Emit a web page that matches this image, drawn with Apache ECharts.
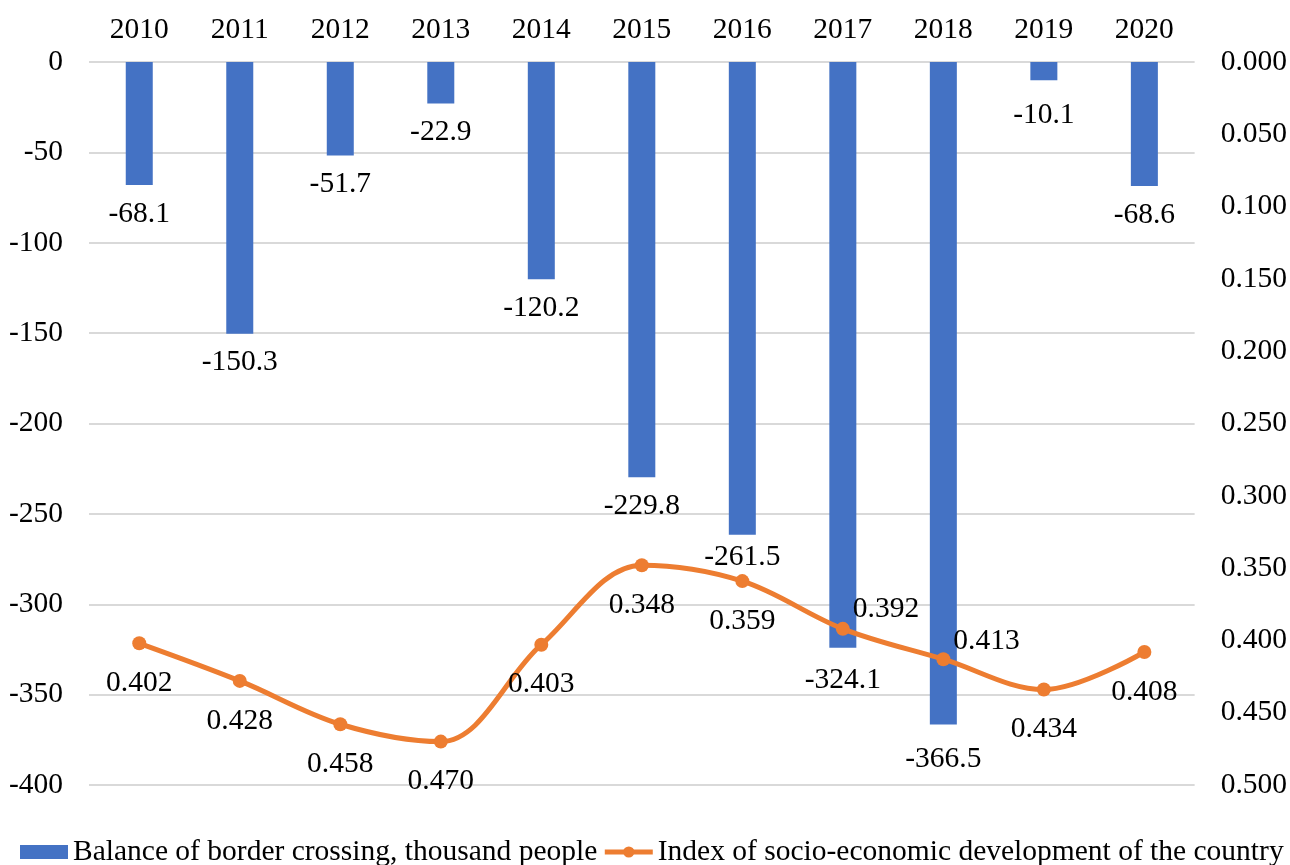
<!DOCTYPE html>
<html>
<head>
<meta charset="utf-8">
<script src="https://cdn.jsdelivr.net/npm/echarts@6/dist/echarts.min.js"></script>
<style>
html,body{margin:0;padding:0;background:#fff;}
#chart{width:1290px;height:865px;}
</style>
</head>
<body>
<div id="chart"></div>
<script>
const years = ['2010','2011','2012','2013','2014','2015','2016','2017','2018','2019','2020'];
const balance = [-68.1, -150.3, -51.7, -22.9, -120.2, -229.8, -261.5, -324.1, -366.5, -10.1, -68.6];
const indexValues = [0.402, 0.428, 0.458, 0.470, 0.403, 0.348, 0.359, 0.392, 0.413, 0.434, 0.408];
const leftTicks = {min: -400, max: 0, interval: 50};
const rightTicks = {min: 0, max: 0.5, interval: 0.05};
const barName = 'Balance of border crossing, thousand people';
const lineName = 'Index of socio-economic development of the country';

const FONT = 'Liberation Serif';
const FS = 29.5;

// label placement tweaks (style only)
const lineLabelRight = {7: [0, -20], 8: [0, -18]};
const barLabelShift = {6: -6, 7: 3, 8: 6, 9: 6};

const lineData = indexValues.map((v, i) => {
  if (lineLabelRight[i]) {
    return {value: v, label: {position: 'right', distance: 3, offset: lineLabelRight[i]}};
  }
  return v;
});
const barData = balance.map((v, i) => {
  if (barLabelShift[i] !== undefined) {
    return {value: v, label: {offset: [0, barLabelShift[i]]}};
  }
  return v;
});

const chart = echarts.init(document.getElementById('chart'), null, {renderer: 'canvas'});
chart.setOption({
  animation: false,
  backgroundColor: '#ffffff',
  textStyle: {fontFamily: FONT, color: '#000'},
  grid: {left: 89, right: 94, top: 62, bottom: 80, containLabel: false},
  legend: {
    top: 837,
    left: 20,
    width: 1280,
    padding: 0,
    itemGap: 5,
    itemWidth: 48,
    itemHeight: 14,
    textStyle: {fontFamily: FONT, fontSize: FS, color: '#000'},
    data: [
      {name: barName, icon: 'rect'},
      {name: lineName, lineStyle: {width: 5}}
    ]
  },
  xAxis: {
    type: 'category',
    position: 'top',
    data: years,
    axisLine: {show: false},
    axisTick: {show: false},
    axisLabel: {fontFamily: FONT, fontSize: FS, color: '#000', margin: 17}
  },
  yAxis: [
    {
      type: 'value',
      min: leftTicks.min, max: leftTicks.max, interval: leftTicks.interval,
      axisLine: {show: false},
      axisTick: {show: false},
      splitLine: {lineStyle: {color: '#d9d9d9', width: 2}},
      axisLabel: {fontFamily: FONT, fontSize: FS, color: '#000', margin: 26}
    },
    {
      type: 'value',
      inverse: true,
      min: rightTicks.min, max: rightTicks.max, interval: rightTicks.interval,
      axisLine: {show: false},
      axisTick: {show: false},
      splitLine: {show: false},
      axisLabel: {fontFamily: FONT, fontSize: FS, color: '#000', margin: 26,
        formatter: v => v.toFixed(3)}
    }
  ],
  series: [
    {
      name: barName,
      type: 'bar',
      yAxisIndex: 0,
      data: barData,
      barWidth: 27,
      itemStyle: {color: '#4472C4'},
      label: {show: true, position: 'bottom', distance: 14,
        fontFamily: FONT, fontSize: FS, color: '#000',
        formatter: p => p.value.toFixed(1)}
    },
    {
      name: lineName,
      type: 'line',
      yAxisIndex: 1,
      data: lineData,
      smooth: 0.35,
      symbol: 'circle',
      symbolSize: 14,
      itemStyle: {color: '#ED7D31'},
      lineStyle: {color: '#ED7D31', width: 5},
      label: {show: true, position: 'bottom', distance: 18,
        fontFamily: FONT, fontSize: FS, color: '#000',
        formatter: p => p.value.toFixed(3)},
      z: 3
    }
  ]
});
</script>
</body>
</html>
